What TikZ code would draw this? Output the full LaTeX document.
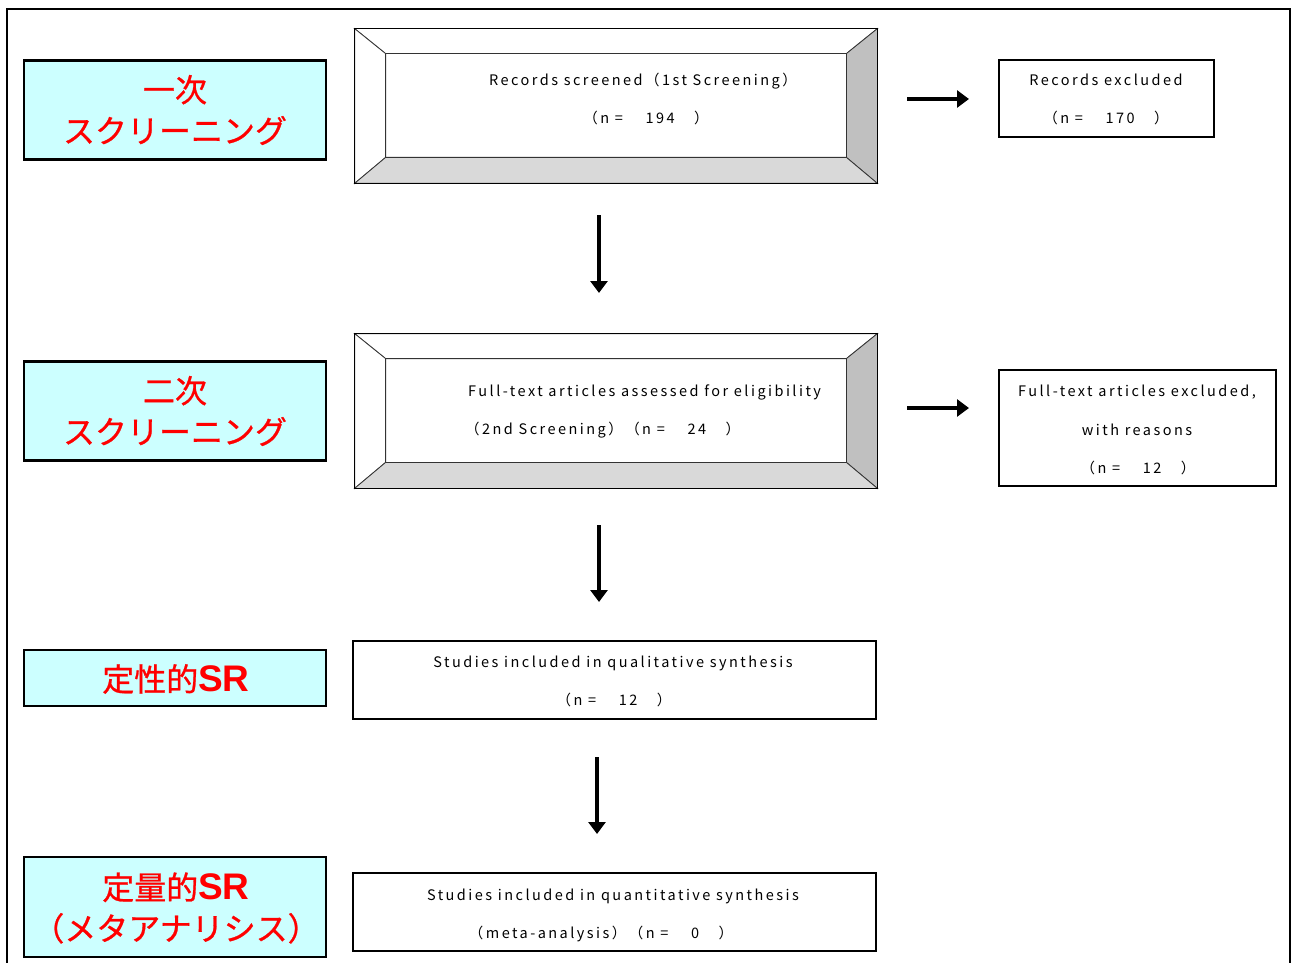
\documentclass[tikz,border=0pt]{standalone}
\usepackage{fontspec}
\usetikzlibrary{arrows.meta,calc}
\newfontfamily\jpfont{Noto Sans CJK JP}[FakeBold=0.8]
\newfontfamily\txtfont{Noto Sans CJK JP}[LetterSpace=17]
\newfontfamily\srfont{Liberation Sans}
\newcommand{\srbold}{{\srfont\bfseries\fontsize{37}{41}\selectfont SR}}
\definecolor{labelcyan}{HTML}{CCFFFF}
\definecolor{bevelright}{HTML}{C0C0C0}
\definecolor{bevelbottom}{HTML}{D9D9D9}
\begin{document}
\begin{tikzpicture}[x=1pt,y=-1pt,
  labelbox/.style={draw=black,line width=2.2pt,fill=labelcyan,inner sep=0pt},
  redtext/.style={text=red,font=\jpfont\fontsize{32}{41}\selectfont,align=center,inner sep=0pt},
  plainbox/.style={draw=black,line width=1.4pt,fill=white,inner sep=0pt},
  bevelbox/.style={draw=black,line width=0.8pt,inner sep=0pt},
  smalltext/.style={font=\txtfont\fontsize{14.5}{38}\selectfont,inner sep=0pt,anchor=base},
  flowarrow/.style={line width=3.6pt,-{Triangle[width=17pt,length=12pt]}},
]
\useasboundingbox (0,0) rectangle (1291,963);
\fill[white] (0,0) rectangle (1291,963);
% outer frame
\draw[line width=2pt] (7,980) -- (7,9) -- (1290,9) -- (1290,980);

% left label boxes
\node[labelbox,minimum width=302pt,minimum height=99pt] (l1) at (175,110) {};
\node[redtext] (l1t) at (175,110) {一次\\スクリーニング};
\node[labelbox,minimum width=302pt,minimum height=99pt] (l2) at (175,411) {};
\node[redtext] (l2t) at (175,411) {二次\\スクリーニング};
\node[labelbox,minimum width=302pt,minimum height=56pt] (l3) at (175,678) {};
\node[redtext] (l3t) at (176,679) {定性的\srbold};
\node[labelbox,minimum width=302pt,minimum height=100pt] (l4) at (175,907) {};
\node[redtext] (l4t) at (176,908) {定量的\srbold\\（メタアナリシス）};

% bevel box 1
\node[bevelbox,minimum width=522pt,minimum height=154pt] (s1) at (616,106) {};
\coordinate (s1a) at ($(s1.north west)+(31,25)$);
\coordinate (s1b) at ($(s1.north east)+(-31,25)$);
\coordinate (s1c) at ($(s1.south east)+(-31,-26)$);
\coordinate (s1d) at ($(s1.south west)+(31,-26)$);
\filldraw[fill=white,draw=black!80,line width=0.8pt] (s1.north west) -- (s1.north east) -- (s1b) -- (s1a) -- cycle;
\filldraw[fill=white,draw=black!80,line width=0.8pt] (s1.north west) -- (s1a) -- (s1d) -- (s1.south west) -- cycle;
\filldraw[fill=bevelright,draw=black!80,line width=0.8pt] (s1.north east) -- (s1.south east) -- (s1c) -- (s1b) -- cycle;
\filldraw[fill=bevelbottom,draw=black!80,line width=0.8pt] (s1.south west) -- (s1d) -- (s1c) -- (s1.south east) -- cycle;
\draw[black!80,line width=1.2pt] (s1a) rectangle (s1c);
\draw[black,line width=0.8pt] (s1.north west) rectangle (s1.south east);
\node[smalltext] (s1t1) at (643,86) {Records screened（1st Screening）};
\node[smalltext] (s1t2) at (646,124) {（n =　 194　）};

% bevel box 2
\node[bevelbox,minimum width=522pt,minimum height=154pt] (s2) at (616,411) {};
\coordinate (s2a) at ($(s2.north west)+(31,25)$);
\coordinate (s2b) at ($(s2.north east)+(-31,25)$);
\coordinate (s2c) at ($(s2.south east)+(-31,-26)$);
\coordinate (s2d) at ($(s2.south west)+(31,-26)$);
\filldraw[fill=white,draw=black!80,line width=0.8pt] (s2.north west) -- (s2.north east) -- (s2b) -- (s2a) -- cycle;
\filldraw[fill=white,draw=black!80,line width=0.8pt] (s2.north west) -- (s2a) -- (s2d) -- (s2.south west) -- cycle;
\filldraw[fill=bevelright,draw=black!80,line width=0.8pt] (s2.north east) -- (s2.south east) -- (s2c) -- (s2b) -- cycle;
\filldraw[fill=bevelbottom,draw=black!80,line width=0.8pt] (s2.south west) -- (s2d) -- (s2c) -- (s2.south east) -- cycle;
\draw[black!80,line width=1.2pt] (s2a) rectangle (s2c);
\draw[black,line width=0.8pt] (s2.north west) rectangle (s2.south east);
\node[smalltext,anchor=base west] (s2t1) at (468,396) {Full-text articles assessed for eligibility};
\node[smalltext,anchor=base west] (s2t2) at (465,434) {（2nd Screening）（n =　 24　）};

% right boxes
\node[plainbox,minimum width=215pt,minimum height=77pt] (r1) at (1106.5,98.5) {};
\node[smalltext] (r1t1) at (1106,86) {Records excluded};
\node[smalltext] (r1t2) at (1106,124) {（n =　 170　）};
\node[plainbox,minimum width=277pt,minimum height=116pt] (r2) at (1137.5,428) {};
\node[smalltext] (r2t1) at (1137,396) {Full-text articles excluded,};
\node[smalltext] (r2t2) at (1137,435) {with reasons};
\node[smalltext] (r2t3) at (1138,473) {（n =　 12　）};

% lower boxes
\node[plainbox,minimum width=523pt,minimum height=78pt] (q1) at (614.5,680) {};
\node[smalltext] (q1t1) at (613,667) {Studies included in qualitative synthesis};
\node[smalltext] (q1t2) at (614,705) {（n =　 12　）};
\node[plainbox,minimum width=523pt,minimum height=78pt] (q2) at (614.5,912) {};
\node[smalltext] (q2t1) at (613,900) {Studies included in quantitative synthesis};
\node[smalltext] (q2t2) at (601,938) {（meta-analysis）（n =　 0　）};

% arrows
\coordinate (h1s) at (907,99); \coordinate (h1e) at (969,99);
\coordinate (h2s) at (907,408); \coordinate (h2e) at (969,408);
\coordinate (v1s) at (599,215); \coordinate (v1e) at (599,293);
\coordinate (v2s) at (599,525); \coordinate (v2e) at (599,602);
\coordinate (v3s) at (597,757); \coordinate (v3e) at (597,834);
\draw[flowarrow] (h1s) -- (h1e);
\draw[flowarrow] (h2s) -- (h2e);
\draw[flowarrow] (v1s) -- (v1e);
\draw[flowarrow] (v2s) -- (v2e);
\draw[flowarrow] (v3s) -- (v3e);
\end{tikzpicture}
\end{document}
